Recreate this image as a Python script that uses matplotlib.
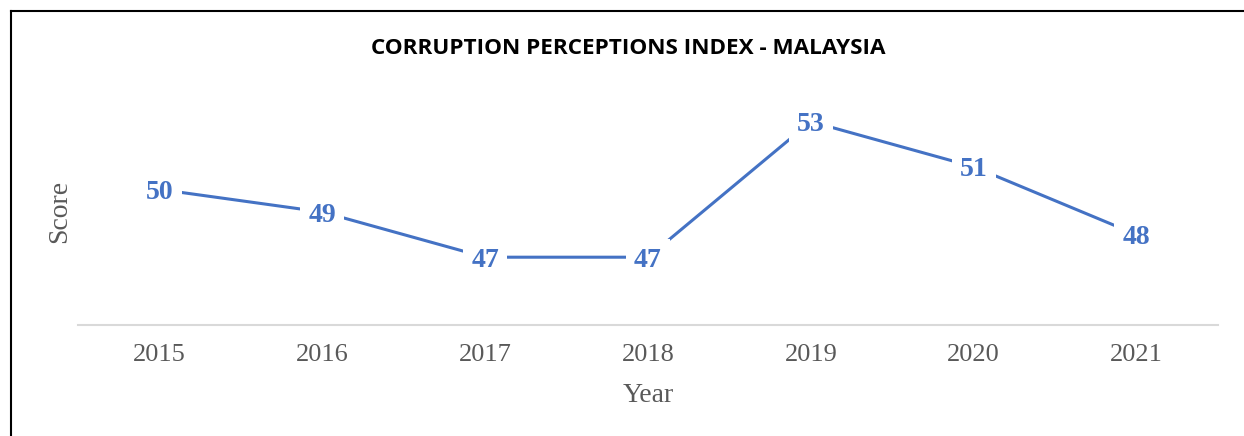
import matplotlib
matplotlib.use("Agg")
import matplotlib.pyplot as plt
from matplotlib.lines import Line2D

years = ["2015", "2016", "2017", "2018", "2019", "2020", "2021"]
scores = [50, 49, 47, 47, 53, 51, 48]

W, H = 1244, 436
fig = plt.figure(figsize=(W / 100, H / 100), dpi=100)

blue = "#4472C4"
gray = "#595959"

ax = fig.add_axes([78 / W, 1 - 325 / H, (1218 - 78) / W, (325 - 99) / H])
x = list(range(len(years)))
ax.plot(x, scores, color=blue, lw=2.2, solid_capstyle="butt", zorder=2)
for xi, v in zip(x, scores):
    ax.annotate(str(v), (xi, v), xytext=(0, -2.2), textcoords="offset points",
                ha="center", va="center", fontsize=20,
                fontweight="bold", family="Liberation Serif", color=blue,
                bbox=dict(boxstyle="square,pad=0.3", fc="white", ec="none"), zorder=3)

ax.set_xlim(-0.5, len(years) - 0.5)
ax.set_ylim(44, 54)
ax.set_xticks(x)
ax.set_xticklabels(years, fontsize=19, family="Liberation Serif", color=gray)
ax.tick_params(axis="x", length=0, pad=14)
ax.set_yticks([])
for s in ["top", "right", "left"]:
    ax.spines[s].set_visible(False)
ax.spines["bottom"].set_color("#D9D9D9")
ax.spines["bottom"].set_linewidth(1.5)

fig.text(60 / W, 1 - 211 / H, "Score", rotation=90, ha="center", va="center",
         fontsize=20, family="Liberation Serif", color=gray)
fig.text(648 / W, 1 - 395 / H, "Year", ha="center", va="center",
         fontsize=20, family="Liberation Serif", color=gray)
fig.text(628 / W, 1 - 48 / H, "CORRUPTION PERCEPTIONS INDEX - MALAYSIA",
         ha="center", va="center", fontsize=16.2, fontweight="bold",
         family="Open Sans", color="black")

# chart border (top and left)
fig.add_artist(Line2D([10.5 / W, 1], [1 - 11.5 / H, 1 - 11.5 / H],
                      transform=fig.transFigure, color="black", lw=1.5))
fig.add_artist(Line2D([10.5 / W, 10.5 / W], [0, 1 - 11.5 / H],
                      transform=fig.transFigure, color="black", lw=1.5))

fig.savefig("out.png", dpi=100, facecolor="white")
